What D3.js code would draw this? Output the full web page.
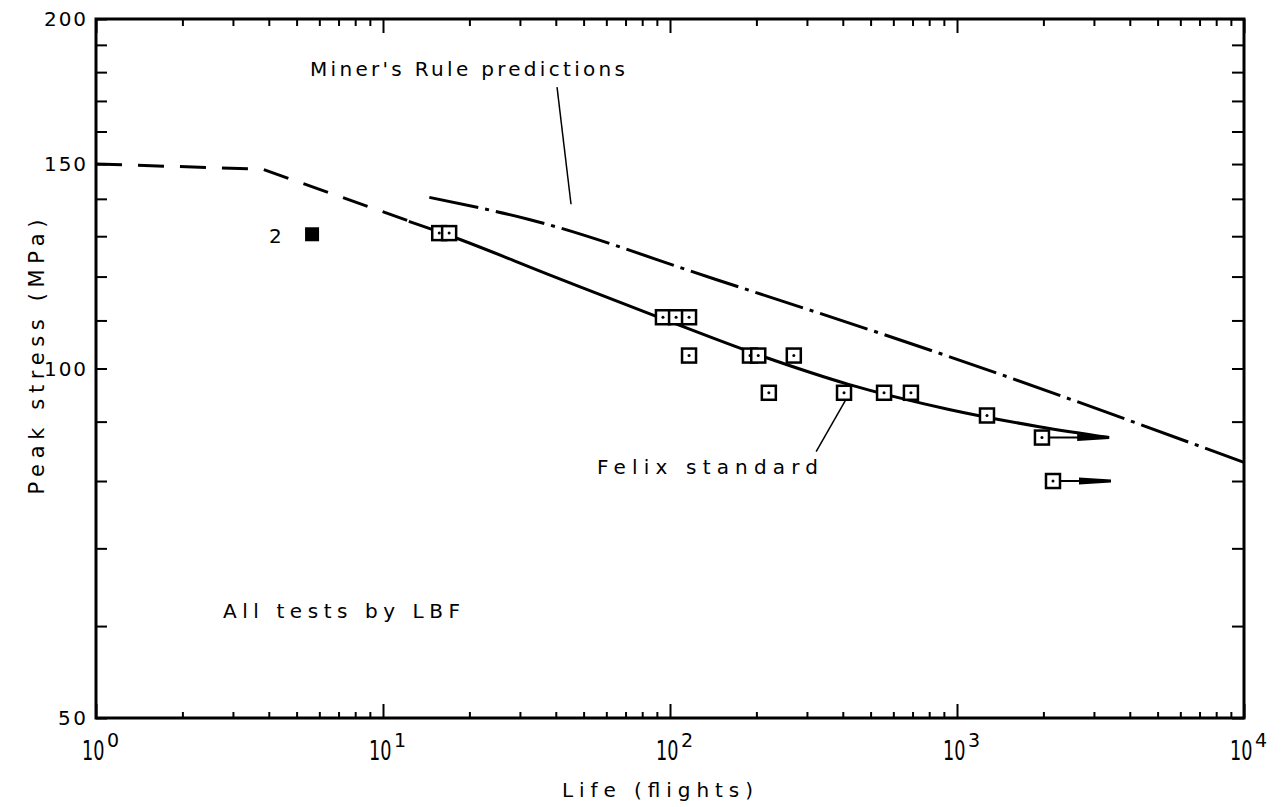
<!DOCTYPE html>
<html>
<head>
<meta charset="utf-8">
<script src="https://cdn.jsdelivr.net/npm/d3@7"></script>
<style>
body { margin: 0; background: #fff; }
text { font-family: "DejaVu Sans", sans-serif; fill: #000; }
</style>
</head>
<body>
<script>
var width = 1286,
    height = 807;

var margin = {left: 96, top: 19, right: 42, bottom: 89};

// Felix standard: dashed extrapolation, then solid curve
var felixDashLife = [1, 3.8, 12.3];
var felixDashStress = [150, 148.5, 134];
var felixLife = [12.3, 16.3, 39.4, 93.9, 216, 419, 938, 1932, 3386];
var felixStress = [133.9, 130.7, 120.0, 110.4, 102.2, 96.9, 92.2, 89.1, 87.2];

// Miner's Rule predictions
var minerLife = [14.5, 32.3, 144.6, 938, 10000];
var minerStress = [140.4, 134.4, 119.3, 102.4, 83];

// test results (open squares)
var testLife = [15.7, 17.0, 94.5, 105, 116.5, 116.5, 190, 203, 270, 221, 404, 557, 691, 1272];
var testStress = [130.8, 130.8, 110.7, 110.7, 110.7, 102.6, 102.6, 102.6, 102.6, 95.3, 95.3, 95.3, 95.3, 91.1];

// unbroken tests (run-outs with arrows)
var runoutLife = [1977, 2160];
var runoutStress = [87.2, 80.0];
var runoutEnd = [3390, 3440];

// filled point, two specimens
var failLife = [5.66];
var failStress = [130.5];
var failCount = ["2"];

var xTickDecades = [1, 10, 100, 1000, 10000];
var xTickExp = ["0", "1", "2", "3", "4"];
var yTickLabels = [50, 100, 150, 200];
var yMinorTicks = [60, 70, 80, 90, 110, 120, 130, 140, 160, 170, 180, 190];

var x = d3.scaleLog()
    .domain([1, 10000])
    .range([margin.left, width - margin.right]);

var y = d3.scaleLog()
    .domain([50, 200])
    .range([height - margin.bottom, margin.top]);

var svg = d3.select("body").append("svg")
    .attr("width", width)
    .attr("height", height);

var x0 = x.range()[0], x1 = x.range()[1],
    y0 = y.range()[0], y1 = y.range()[1];

// minor x ticks 2..9 per decade
var xMinor = [];
xTickDecades.slice(0, 4).forEach(function(d) {
    for (var k = 2; k <= 9; k++) xMinor.push(d * k);
});

function styleAxis(g) {
    g.select(".domain").remove();
    g.selectAll(".tick line").attr("stroke", "#000").attr("stroke-width", 2);
    g.selectAll(".tick text").remove();
}

// bottom axis (ticks pointing up into the plot)
svg.append("g").attr("transform", "translate(0," + y0 + ")")
    .call(d3.axisTop(x).tickValues(xMinor).tickSize(6).tickFormat(""))
    .call(styleAxis);
svg.append("g").attr("transform", "translate(0," + y0 + ")")
    .call(d3.axisTop(x).tickValues(xTickDecades).tickSize(14).tickFormat(""))
    .call(styleAxis);
// top axis
svg.append("g").attr("transform", "translate(0," + y1 + ")")
    .call(d3.axisBottom(x).tickValues(xMinor).tickSize(7).tickFormat(""))
    .call(styleAxis);
svg.append("g").attr("transform", "translate(0," + y1 + ")")
    .call(d3.axisBottom(x).tickValues(xTickDecades).tickSize(14).tickFormat(""))
    .call(styleAxis);
// left and right axes
svg.append("g").attr("transform", "translate(" + x0 + ",0)")
    .call(d3.axisRight(y).tickValues(yMinorTicks.concat(yTickLabels)).tickSize(11).tickFormat(""))
    .call(styleAxis);
svg.append("g").attr("transform", "translate(" + x1 + ",0)")
    .call(d3.axisLeft(y).tickValues(yMinorTicks.concat(yTickLabels)).tickSize(12).tickFormat(""))
    .call(styleAxis);

// frame
svg.append("rect")
    .attr("x", x0).attr("y", y1)
    .attr("width", x1 - x0).attr("height", y0 - y1)
    .attr("fill", "none")
    .attr("stroke", "#000")
    .attr("stroke-width", 3);

// y tick labels
svg.selectAll(".ylab")
    .data(yTickLabels)
    .enter().append("text")
    .attr("class", "ylab")
    .attr("x", x0 - 10)
    .attr("y", function(d) { return y(d) + 7; })
    .attr("text-anchor", "end")
    .attr("font-size", 20)
    .attr("textLength", function(d) { return String(d).length * 14; })
    .attr("lengthAdjust", "spacing")
    .text(function(d) { return d; });

// x tick labels: narrow tall "10" plus superscript exponent
svg.selectAll(".xlab")
    .data(xTickDecades)
    .enter().append("text")
    .attr("class", "xlab")
    .attr("transform", function(d) { return "translate(" + (x(d) - 14) + ",760) scale(0.68,1)"; })
    .attr("font-size", 26)
    .text("10");
svg.selectAll(".xexp")
    .data(xTickDecades)
    .enter().append("text")
    .attr("class", "xexp")
    .attr("x", function(d) { return x(d) + 11; })
    .attr("y", 747)
    .attr("font-size", 19)
    .text(function(d, i) { return xTickExp[i]; });

// axis titles
svg.append("text")
    .attr("x", 562).attr("y", 797)
    .attr("font-size", 20)
    .attr("textLength", 191)
    .attr("lengthAdjust", "spacing")
    .text("Life (flights)");
svg.append("text")
    .attr("transform", "translate(44,357) rotate(-90)")
    .attr("text-anchor", "middle")
    .attr("font-size", 21)
    .attr("textLength", 275)
    .attr("lengthAdjust", "spacing")
    .text("Peak stress (MPa)");

var line = d3.line()
    .x(function(d) { return x(d[0]); })
    .y(function(d) { return y(d[1]); })
    .curve(d3.curveMonotoneX);

function pairs(a, b) { return a.map(function(v, i) { return [v, b[i]]; }); }

// Felix standard curve
svg.append("path")
    .attr("d", d3.line()
        .x(function(d) { return x(d[0]); })
        .y(function(d) { return y(d[1]); })(pairs(felixDashLife, felixDashStress)))
    .attr("fill", "none").attr("stroke", "#000")
    .attr("stroke-width", 3)
    .attr("stroke-dasharray", "26,16");
svg.append("path")
    .attr("d", line(pairs(felixLife, felixStress)))
    .attr("fill", "none").attr("stroke", "#000")
    .attr("stroke-width", 3);

// Miner's rule curve
svg.append("path")
    .attr("d", line(pairs(minerLife, minerStress)))
    .attr("fill", "none").attr("stroke", "#000")
    .attr("stroke-width", 3)
    .attr("stroke-dasharray", "50,7,4,7");

// run-out arrows
runoutLife.forEach(function(d, i) {
    var xs = x(d), xe = x(runoutEnd[i]), yy = y(runoutStress[i]);
    svg.append("line")
        .attr("x1", xs).attr("x2", xe)
        .attr("y1", yy).attr("y2", yy)
        .attr("stroke", "#000").attr("stroke-width", 2);
    svg.append("path")
        .attr("d", "M" + (xe - 32) + "," + (yy - 3.5) + "L" + xe + "," + (yy - 1.5) +
                   "L" + xe + "," + (yy + 1.5) + "L" + (xe - 32) + "," + (yy + 3.5) + "Z")
        .attr("fill", "#000");
});

// open squares
var pts = pairs(testLife, testStress).concat(pairs(runoutLife, runoutStress));
svg.selectAll(".pt")
    .data(pts)
    .enter().append("rect")
    .attr("class", "pt")
    .attr("x", function(d) { return x(d[0]) - 7; })
    .attr("y", function(d) { return y(d[1]) - 7; })
    .attr("width", 14).attr("height", 14)
    .attr("fill", "#fff").attr("stroke", "#000")
    .attr("stroke-width", 2.5);
svg.selectAll(".ptdot")
    .data(pts)
    .enter().append("circle")
    .attr("cx", function(d) { return x(d[0]); })
    .attr("cy", function(d) { return y(d[1]); })
    .attr("r", 1.5)
    .attr("fill", "#000");

// filled square with count
svg.selectAll(".fail")
    .data(pairs(failLife, failStress))
    .enter().append("rect")
    .attr("x", function(d) { return x(d[0]) - 7; })
    .attr("y", function(d) { return y(d[1]) - 7; })
    .attr("width", 14).attr("height", 14)
    .attr("fill", "#000");
svg.selectAll(".failtxt")
    .data(pairs(failLife, failStress))
    .enter().append("text")
    .attr("x", function(d) { return x(d[0]) - 43; })
    .attr("y", function(d) { return y(d[1]) + 9; })
    .attr("font-size", 20)
    .text(function(d, i) { return failCount[i]; });

// annotations
svg.append("text")
    .attr("x", 310).attr("y", 76)
    .attr("font-size", 20)
    .attr("textLength", 315)
    .attr("lengthAdjust", "spacing")
    .text("Miner's Rule predictions");
svg.append("line")
    .attr("x1", x(40.4)).attr("y1", y(174.7))
    .attr("x2", x(45.2)).attr("y2", y(138.5))
    .attr("stroke", "#000").attr("stroke-width", 1.5);

svg.append("text")
    .attr("x", 597).attr("y", 474)
    .attr("font-size", 20)
    .attr("textLength", 221)
    .attr("lengthAdjust", "spacing")
    .text("Felix standard");
svg.append("line")
    .attr("x1", x(323)).attr("y1", y(84.8))
    .attr("x2", x(410)).attr("y2", y(94.0))
    .attr("stroke", "#000").attr("stroke-width", 1.5);

svg.append("text")
    .attr("x", 223).attr("y", 618)
    .attr("font-size", 20)
    .attr("textLength", 237)
    .attr("lengthAdjust", "spacing")
    .text("All tests by LBF");
</script>
</body>
</html>
